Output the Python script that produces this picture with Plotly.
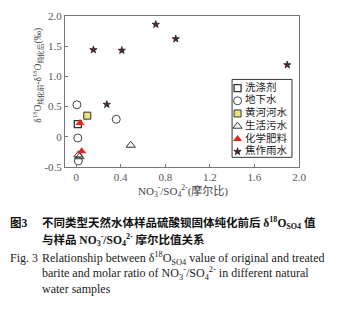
import plotly.graph_objects as go

# ---------------- data ----------------
series_names = ["洗涤剂", "地下水", "黄河河水", "生活污水", "化学肥料", "焦作雨水"]

detergent_x = [0.015]
detergent_y = [0.21]

groundwater_x = [0.007, 0.015, 0.36, 0.02]
groundwater_y = [0.53, -0.02, 0.29, -0.40]

yellowriver_x = [0.10]
yellowriver_y = [0.35]

sewage_x = [0.02, 0.03, 0.49]
sewage_y = [-0.30, -0.33, -0.14]

fertilizer_x = [0.035, 0.05]
fertilizer_y = [0.23, -0.24]

rain_x = [0.155, 0.41, 0.715, 0.894, 1.895, 0.275]
rain_y = [1.44, 1.43, 1.86, 1.62, 1.19, 0.535]

x_tick_vals = [0, 0.4, 0.8, 1.2, 1.6, 2.0]
x_tick_text = ["0", "0.4", "0.8", "1.2", "1.6", "2.0"]
y_tick_vals = [-0.5, 0, 0.5, 1.0, 1.5, 2.0]
y_tick_text = ["-0.5", "0", "0.5", "1.0", "1.5", "2.0"]

# ---------------- styles ----------------
styles = [
    dict(symbol="square-open", size=7, color="#333333", line=dict(width=1.3, color="#333333")),
    dict(symbol="circle-open", size=8, color="#444444", line=dict(width=1, color="#444444")),
    dict(symbol="square", size=7, color="#ece27a", line=dict(width=1, color="#333333")),
    dict(symbol="triangle-up-open", size=8, color="#333333", line=dict(width=1, color="#333333")),
    dict(symbol="triangle-up", size=8, color="#e8231b", line=dict(width=0, color="#e8231b")),
    dict(symbol="star", size=5.5, color="#5a2438", line=dict(width=0.7, color="#111111")),
]
data_sets = [
    (detergent_x, detergent_y),
    (groundwater_x, groundwater_y),
    (yellowriver_x, yellowriver_y),
    (sewage_x, sewage_y),
    (fertilizer_x, fertilizer_y),
    (rain_x, rain_y),
]

fig = go.Figure()
for name, (xs, ys), st in zip(series_names, data_sets, styles):
    fig.add_trace(go.Scatter(x=xs, y=ys, mode="markers", name=name, marker=st,
                             showlegend=False, cliponaxis=False))

# custom compact legend drawn on an auxiliary axis pair
for i, (name, st) in enumerate(zip(series_names, styles)):
    fig.add_trace(go.Scatter(x=[5.5], y=[i], mode="markers", marker=st,
                             xaxis="x2", yaxis="y2", showlegend=False, hoverinfo="skip"))
fig.add_trace(go.Scatter(x=[13] * len(series_names), y=list(range(len(series_names))),
                         mode="text", text=series_names, textposition="middle right",
                         textfont=dict(family="Noto Sans CJK SC", size=10.5, color="#222222"),
                         xaxis="x2", yaxis="y2", showlegend=False, hoverinfo="skip"))

serif = "Liberation Serif, Times New Roman, serif"
axis_common = dict(showgrid=False, zeroline=False, showline=True, linecolor="#777777",
                   linewidth=1, mirror=True, ticks="inside", ticklen=3, tickcolor="#777777",
                   tickfont=dict(family=serif, size=11, color="#555555"))

fig.update_layout(
    width=338, height=326,
    margin=dict(l=65, r=39, t=10, b=159),
    paper_bgcolor="white", plot_bgcolor="white",
    xaxis=dict(range=[-0.1, 2.0], tickvals=x_tick_vals, ticktext=x_tick_text, **axis_common),
    yaxis=dict(range=[-0.5, 2.0], tickvals=y_tick_vals, tickmode="array",
               ticktext=y_tick_text, **axis_common),
    xaxis2=dict(domain=[0.714, 0.970], range=[0, 60], visible=False, anchor="y2", fixedrange=True),
    yaxis2=dict(domain=[0.064, 0.580], range=[5.45, -0.68], visible=False, anchor="x2", fixedrange=True),
    showlegend=False,
)

fig.add_shape(type="rect", xref="paper", yref="paper", x0=0.714, x1=0.970, y0=0.064, y1=0.580,
              line=dict(color="#333333", width=1))

def px_x(px):
    return (px - 65) / 234.0

def px_y(py):
    return (167 - py) / 157.0

# axis titles
fig.add_annotation(xref="paper", yref="paper", x=px_x(38), y=px_y(72), textangle=-90,
                   showarrow=False, xanchor="center", yanchor="middle",
                   text="δ<sup>18</sup>O<sub>纯化前</sub>-δ<sup>18</sup>O<sub>纯化后</sub>(‰)",
                   font=dict(family="Liberation Serif, Noto Sans CJK SC", size=9.5, color="#444444"))
fig.add_annotation(xref="paper", yref="paper", x=px_x(183), y=px_y(192),
                   showarrow=False, xanchor="center", yanchor="middle",
                   text="NO<sub>3</sub><sup>-</sup>/SO<sub>4</sub><sup>2-</sup>(摩尔比)",
                   font=dict(family="Liberation Serif, Noto Sans CJK SC", size=11, color="#444444"))

# captions
cn_font = dict(family="Liberation Serif, Noto Sans CJK SC", size=11.5, color="#111111")
en_font = dict(family=serif, size=12, color="#222222")
captions = [
    (8, 225, "<b>图3</b>", cn_font),
    (40, 225, "<b>不同类型天然水体样品硫酸钡固体纯化前后 δ<sup>18</sup>O<sub>SO4</sub> 值</b>", cn_font),
    (40, 243, "<b>与样品 NO<sub>3</sub><sup>-</sup>/SO<sub>4</sub><sup>2-</sup> 摩尔比值关系</b>", cn_font),
    (8, 262, "Fig. 3", en_font),
    (40, 262, "Relationship between δ<sup>18</sup>O<sub>SO4</sub> value of original and treated", en_font),
    (40, 278, "barite and molar ratio of NO<sub>3</sub><sup>-</sup>/SO<sub>4</sub><sup>2-</sup> in different natural", en_font),
    (40, 294, "water samples", en_font),
]
for x, y, t, f in captions:
    fig.add_annotation(xref="paper", yref="paper", x=px_x(x), y=px_y(y), text=t,
                       showarrow=False, xanchor="left", yanchor="middle", font=f)

fig.write_html("out.html")
